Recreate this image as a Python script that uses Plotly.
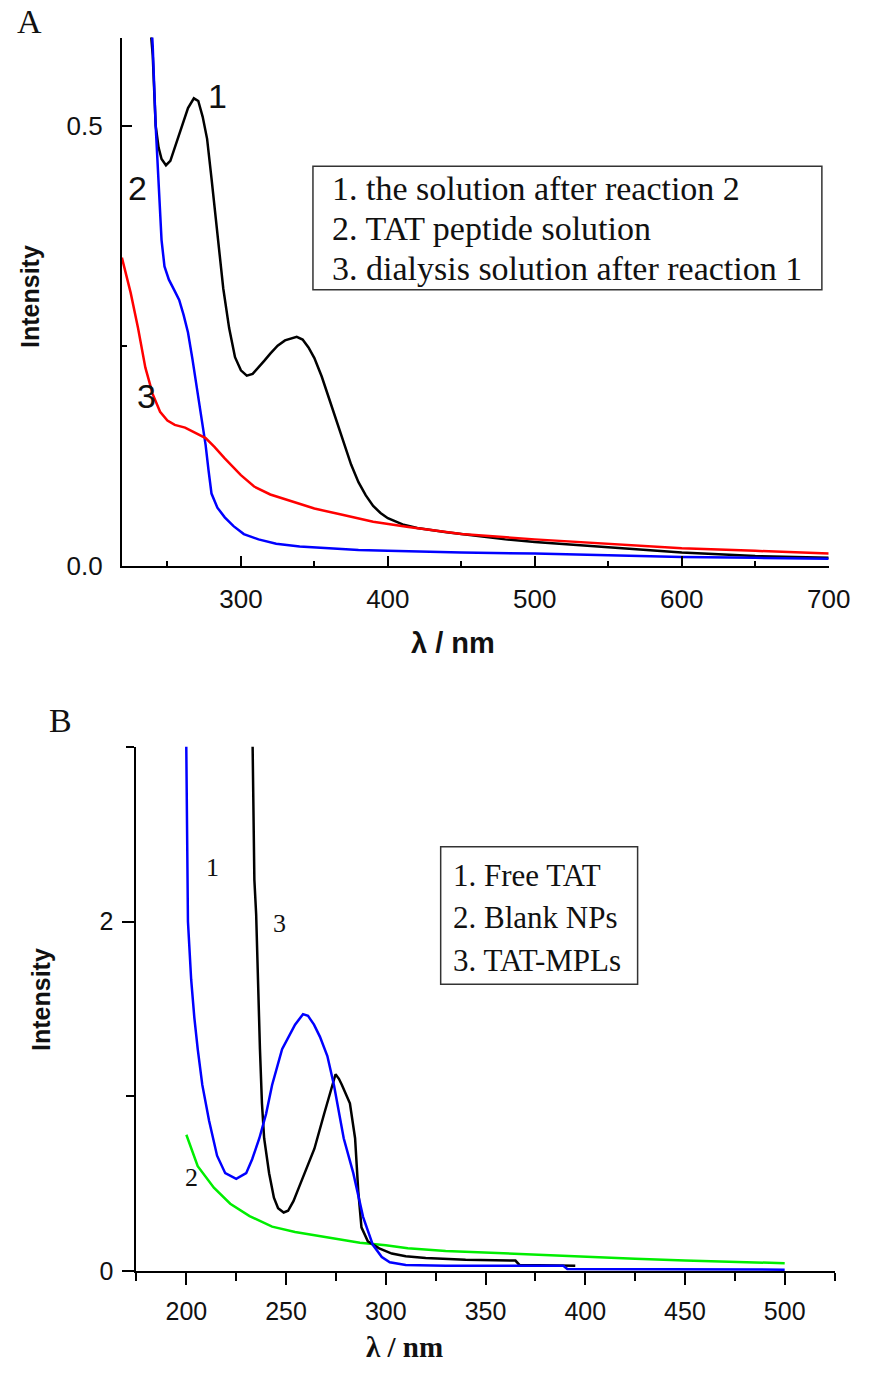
import plotly.graph_objects as go

# ---------------- Panel A data ----------------
wl_a1 = [238, 240, 242, 244, 246, 249, 252, 256, 260, 264, 268, 271, 274, 277, 280, 284, 288, 292, 296, 300,
         304, 308, 312, 316, 320, 325, 330, 335, 338, 342, 346, 350, 355, 360, 365, 370, 375, 380, 385, 390,
         395, 400, 410, 420, 440, 460, 480, 500, 550, 600, 650, 700]
int_a1 = [0.62, 0.58, 0.50, 0.475, 0.462, 0.455, 0.46, 0.48, 0.50, 0.52, 0.531, 0.528, 0.51, 0.485, 0.44, 0.38,
          0.315, 0.27, 0.237, 0.222, 0.216, 0.218, 0.225, 0.233, 0.241, 0.25, 0.256, 0.259, 0.26, 0.257, 0.248,
          0.236, 0.215, 0.19, 0.165, 0.14, 0.115, 0.095, 0.08, 0.068, 0.06, 0.054, 0.047, 0.043, 0.038, 0.034,
          0.03, 0.027, 0.021, 0.015, 0.011, 0.009]

wl_a2 = [238, 240, 242, 244, 246, 248, 251, 255, 258, 261, 264, 267, 271, 274, 276, 278, 280, 284, 289, 295,
         302, 312, 324, 340, 358, 380, 400, 450, 500, 550, 600, 650, 700]
int_a2 = [0.65, 0.59, 0.50, 0.43, 0.37, 0.34, 0.325, 0.312, 0.302, 0.285, 0.265, 0.235, 0.193, 0.16, 0.137,
          0.108, 0.082, 0.066, 0.055, 0.045, 0.036, 0.03, 0.025, 0.022, 0.02, 0.018, 0.017, 0.015, 0.014,
          0.012, 0.01, 0.009, 0.008]

wl_a3 = [219, 222, 225, 230, 235, 240, 245, 250, 255, 262, 270, 276, 282, 289, 300, 309, 320, 336, 350, 369,
         390, 414, 450, 500, 550, 600, 650, 700]
int_a3 = [0.35, 0.33, 0.31, 0.27, 0.225, 0.195, 0.175, 0.165, 0.16, 0.157, 0.15, 0.145, 0.135, 0.122, 0.103,
          0.09, 0.081, 0.072, 0.065, 0.058, 0.05, 0.044, 0.036, 0.03, 0.025, 0.02, 0.017, 0.014]

legend_a = ["1. the solution after reaction 2", "2. TAT peptide solution", "3. dialysis solution after reaction 1"]

# ---------------- Panel B data ----------------
wl_b1 = [199.8, 200.3, 200.8, 202.4, 204, 205.7, 208, 211.4, 215.4, 219.5, 225, 230, 233, 236.6, 240, 243, 248,
         254.5, 258.5, 261, 264, 267, 270.7, 274, 278.9, 283.7, 288.6, 293.5, 298, 302, 310, 330, 360, 389,
         391, 420, 460, 500]
int_b1 = [3.2, 2.6, 2.0, 1.67, 1.45, 1.27, 1.065, 0.86, 0.66, 0.56, 0.527, 0.56, 0.64, 0.76, 0.9, 1.065, 1.27,
          1.41, 1.47, 1.46, 1.41, 1.34, 1.23, 1.065, 0.76, 0.56, 0.31, 0.15, 0.08, 0.05, 0.035, 0.03, 0.03,
          0.03, 0.012, 0.01, 0.01, 0.008]

wl_b2 = [200, 205.7, 213.8, 222, 231.7, 243, 254.5, 270.7, 287, 300, 311, 330, 350, 375, 400, 425, 450, 475, 500]
int_b2 = [0.78, 0.60, 0.477, 0.385, 0.314, 0.254, 0.223, 0.193, 0.162, 0.148, 0.13, 0.115, 0.105, 0.092, 0.082,
          0.07, 0.06, 0.052, 0.045]

wl_b3 = [233, 233.5, 234.1, 235, 235.8, 236.9, 237.9, 239, 241.5, 243.9, 246, 248.8, 251, 253.7, 256.5, 259.3,
         264.2, 269.1, 272, 274.8, 276.5, 278, 282, 284.6, 286.2, 287.8, 291, 296.7, 303, 310, 320, 340, 365,
         367, 395]
int_b3 = [3.2, 2.8, 2.24, 2.04, 1.67, 1.27, 0.96, 0.76, 0.56, 0.42, 0.36, 0.335, 0.345, 0.40, 0.48, 0.56, 0.70,
          0.90, 1.02, 1.126, 1.10, 1.065, 0.96, 0.76, 0.456, 0.25, 0.17, 0.13, 0.10, 0.085, 0.075, 0.065, 0.06,
          0.035, 0.03]

legend_b = ["1. Free TAT", "2. Blank NPs", "3. TAT-MPLs"]

W, H = 878, 1380
def px(x):
    return x / W
def py(y):
    return 1 - y / H

fig = go.Figure()
lw = 2.5
fig.add_trace(go.Scatter(x=wl_a1, y=int_a1, mode="lines", line=dict(color="#000000", width=lw), xaxis="x", yaxis="y"))
fig.add_trace(go.Scatter(x=wl_a2, y=int_a2, mode="lines", line=dict(color="#0000FF", width=lw), xaxis="x", yaxis="y"))
fig.add_trace(go.Scatter(x=wl_a3, y=int_a3, mode="lines", line=dict(color="#FF0000", width=lw), xaxis="x", yaxis="y"))
fig.add_trace(go.Scatter(x=wl_b2, y=int_b2, mode="lines", line=dict(color="#00EE00", width=lw), xaxis="x2", yaxis="y2"))
fig.add_trace(go.Scatter(x=wl_b3, y=int_b3, mode="lines", line=dict(color="#000000", width=lw), xaxis="x2", yaxis="y2"))
fig.add_trace(go.Scatter(x=wl_b1, y=int_b1, mode="lines", line=dict(color="#0000FF", width=lw), xaxis="x2", yaxis="y2"))

sans = "Liberation Sans, Arial, sans-serif"
serif = "Liberation Serif, Times New Roman, serif"

axA_common = dict(showline=True, linecolor="black", linewidth=2, showgrid=False, zeroline=False,
                  ticks="inside", ticklen=10, tickwidth=2, tickcolor="black", mirror=False,
                  tickfont=dict(family=sans, size=26, color="#111"))
axB_common = dict(showline=True, linecolor="black", linewidth=2, showgrid=False, zeroline=False,
                  ticks="outside", ticklen=12, tickwidth=2, tickcolor="black", mirror=False,
                  tickfont=dict(family=sans, size=25, color="#111"))

fig.update_layout(
    width=W, height=H, margin=dict(l=0, r=0, t=0, b=0),
    paper_bgcolor="white", plot_bgcolor="white", showlegend=False,
    xaxis=dict(domain=[px(125), px(850)], range=[219, 700], anchor="y", tick0=0, dtick=100,
               minor=dict(dtick=50, ticks="inside", ticklen=5, tickwidth=2, tickcolor="black"),
               ticklabelstandoff=9, **axA_common),
    yaxis=dict(domain=[py(572), py(38)], range=[0, 0.6], anchor="x", tick0=0, dtick=0.5, tickformat=".1f",
               minor=dict(dtick=0.25, ticks="inside", ticklen=5, tickwidth=2, tickcolor="black"),
               ticklabelstandoff=12, **axA_common),
    xaxis2=dict(domain=[px(140), px(856)], range=[175, 525], anchor="y2", tick0=0, dtick=50,
                minor=dict(dtick=25, ticks="outside", ticklen=8, tickwidth=2, tickcolor="black"),
                ticklabelstandoff=5, **axB_common),
    yaxis2=dict(domain=[py(1285), py(755)], range=[0, 3], anchor="x2", tick0=0, dtick=2,
                minor=dict(dtick=1, ticks="outside", ticklen=8, tickwidth=2, tickcolor="black"),
                ticklabelstandoff=4, **axB_common),
)

ann = []
# Panel letters
ann.append(dict(text="A", x=px(30), y=py(22), font=dict(family=serif, size=34, color="#111")))
ann.append(dict(text="B", x=px(62), y=py(728), font=dict(family=serif, size=34, color="#111")))
# Axis titles
ann.append(dict(text="<b>Intensity</b>", x=px(30), y=py(300), textangle=-90,
                font=dict(family=sans, size=25, color="#111")))
ann.append(dict(text="<b>λ / nm</b>", x=px(465), y=py(650), font=dict(family=sans, size=29, color="#111")))
ann.append(dict(text="<b>Intensity</b>", x=px(42), y=py(1010), textangle=-90,
                font=dict(family=sans, size=25, color="#111")))
ann.append(dict(text="<b>λ / nm</b>", x=px(415), y=py(1362), font=dict(family=serif, size=29, color="#111")))
# Curve labels A
for t, (x, y) in zip(["1", "2", "3"], [(223, 97), (141, 190), (150, 400)]):
    ann.append(dict(text=t, x=px(x), y=py(y), font=dict(family=sans, size=34, color="#111")))
# Curve labels B
for t, (x, y) in zip(["1", "3", "2"], [(218, 877), (287, 934), (196, 1190)]):
    ann.append(dict(text=t, x=px(x), y=py(y), font=dict(family=serif, size=26, color="#111")))
# Legend A text
for i, t in enumerate(legend_a):
    ann.append(dict(text=t, x=px(338), y=py(191 + 40 * i), xanchor="left",
                    font=dict(family=serif, size=34, color="#111")))
# Legend B text
for i, t in enumerate(legend_b):
    ann.append(dict(text=t, x=px(463), y=py(885 + 43 * i), xanchor="left",
                    font=dict(family=serif, size=31, color="#111")))

for a in ann:
    a.setdefault("xanchor", "center")
    a.update(xref="paper", yref="paper", yanchor="middle", showarrow=False)
fig.update_layout(annotations=ann)

fig.update_layout(shapes=[
    dict(type="rect", xref="paper", yref="paper", x0=px(321), x1=px(843), y0=py(168), y1=py(293),
         line=dict(color="#333", width=1.5)),
    dict(type="rect", xref="paper", yref="paper", x0=px(452), x1=px(654), y0=py(856), y1=py(995),
         line=dict(color="#333", width=1.5)),
])

fig.write_html("out.html")
